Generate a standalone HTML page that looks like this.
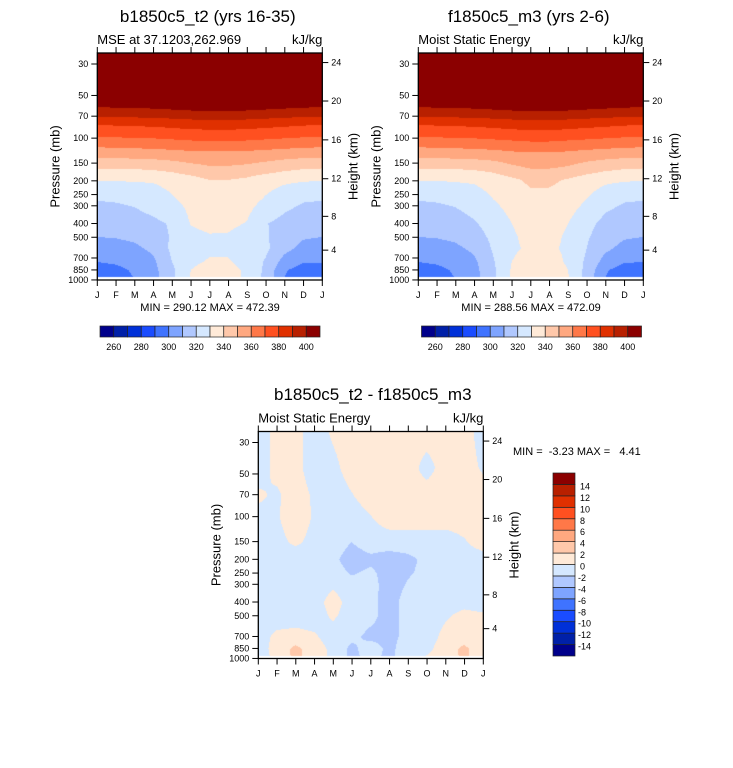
<!DOCTYPE html>
<html><head><meta charset="utf-8">
<style>
html,body{margin:0;padding:0;background:#fff;}
#root{position:relative;width:733px;height:768px;overflow:hidden;font-family:"Liberation Sans",Arial,sans-serif;}
canvas{position:absolute;}
svg{position:absolute;left:0;top:0;}
</style></head>
<body>
<div id="root">
<canvas id="cA"></canvas>
<canvas id="cB"></canvas>
<canvas id="cD"></canvas>
<svg id="ov" width="733" height="768"></svg>
</div>
<script>
const monthLabels=["J","F","M","A","M","J","J","A","S","O","N","D","J"];
const pressureTicks=[30,50,70,100,150,200,250,300,400,500,700,850,1000];
const heightTicks=[4,8,12,16,20,24];
const levelsTop=[260,270,280,290,300,310,320,330,340,350,360,370,380,390,400];
const levelsDiff=[-14,-12,-10,-8,-6,-4,-2,0,2,4,6,8,10,12,14];
const topBarLabels=[260,280,300,320,340,360,380,400];
const palette=["#00008b","#0020a8","#0030d8","#1a4cff","#3f73ff","#7ea4ff","#b0c8ff","#d5e8ff","#ffead8","#ffc8aa","#ffa880","#ff7848","#ff5020","#e03000","#b82000","#8b0000"];
const presA=[25,60,70,80,97,115,136,162,197,269,400,498,600,747,850,1000];
const mseA=[
[450,450,450,450,450,450,450,450,450,450,450,450,450],
[400.5,401,401.5,402,403,404,404.5,404.5,404,403,402,401,400.5],
[390.5,391,391.5,392,393,394,394.5,394.5,394,393,392,391,390.5],
[380.5,381,381.5,382,383,384,384.5,384.5,384,383,382,381,380.5],
[370.5,371,371.5,372,373,374,374.5,374.5,374,373,372,371,370.5],
[360.5,361,361.5,362,363,364,364.5,364.5,364,363,362,361,360.5],
[350.5,351,351.5,352,353,354,354.5,354.5,354,353,352,351,350.5],
[340.5,341,341,342,344,347,349,349,348,346,343,341,340.5],
[330.5,330.5,331,331,333,336,340,340,338,334,332,331,330.5],
[320.5,321,322,325,329,333,337,337,334,329,324,321,320.5],
[313,314,316,318,321,330.5,333,332,329.5,320.5,317,314,313],
[310,310.5,312,315,321,327,329,329,326,321,315,311,310],
[305,306,308,312,322,327,328,328,326,322,313,307,305],
[300,301,303,308,320,328,331,331,326,319,306,300.5,300.5],
[297,298,301,307,318,330,334,334,328,318,301,296,297],
[295,296.5,300,306,318,331,335,335,328,317,299.5,294,295]];
const presB=[25,60,70,80,97,115,136,162,197,269,400,498,600,747,850,1000];
const mseB=[
[450,450,450,450,450,450,450,450,450,450,450,450,450],
[400.5,401,401.5,402,403,404,405,405,404,403,402,401,400.5],
[390.5,391,391.5,392,393,394,395,395,394,393,392,391,390.5],
[380.5,381,381.5,382,383,384,385,385,384,383,382,381,380.5],
[370.5,371,371.5,372,373,374,375,375,374,373,372,371,370.5],
[360.5,361,361.5,362,363,364,365,365,364,363,362,361,360.5],
[350.5,351,351.5,352,353,355,356,356,355,353,352,351,350.5],
[340.5,341,341,342,344,348,350.5,350.5,349,346,343,341,340.5],
[330.5,330.5,331,331.5,334,338,342,342,339,335,332,331,330.5],
[320.5,321,322,325,330,334,337,337,335,330,324,321,320.5],
[313,314,316,319,324,330,333,333,330,323,317,314,313],
[310,310.5,312,316,322,329,332,332,329,321,315,311,310],
[305,306,308,312,321,329,331,331,329,320,312,307,305],
[300,301,303,308,319,330,333,333,329,318,306,300.5,300],
[297,298,301,307,318,331,335,335,330,317,301,296,297],
[295,296.5,300,306,317,332,336,336,331,316,299.5,294,295]];
const presD=[25,45,70,100,150,200,250,300,400,500,700,850,1000];
const mseD=[
[-1,0.6,0.6,-1,0.3,1,1,1,1,1,1,1,-1],
[-1,0.6,0.6,-1,-0.5,0.8,1,1,1,-0.8,1,1,-0.3],
[0.3,-0.3,1,-0.3,-1,-0.1,1,1,1,1,1,1,1],
[-0.5,-0.2,1,-0.2,-1,-1,-0.1,1,1,1,1,1,1],
[-1,-0.5,0.3,-0.5,-1,-2,-1,-1,-1,-1,-1,-0.2,1],
[-1,-1,-1,-1,-1.5,-3,-2.5,-3,-2.5,-1.5,-1,-1,-1],
[-1,-1,-1,-1,-1,-2.2,-1.5,-3,-2.2,-1.5,-1,-1,-1],
[-1,-1,-1,-1,-0.3,-1,-1.2,-3,-1.8,-1,-1,-1,-1],
[-1,-1,-1,-0.8,0.8,-0.8,-1.5,-2.8,-1.2,-1,-0.8,-0.5,-0.8],
[-1,-1,-1,-1,0.3,-1,-1.5,-2.8,-1.2,-0.8,-0.2,0.5,0.3],
[-1,0.5,0.8,0.3,-1,-1.5,-2.5,-2.5,-1.5,-0.8,0.5,1,0.3],
[-1,0.8,2.5,1,-0.5,-2.5,-1,-2.5,-1,-0.5,1,2.5,0.5],
[-1,0.5,2.5,1,-0.5,-2.5,-1.5,-2.5,-1,0.3,0.8,2.5,0.5]];

const NS='http://www.w3.org/2000/svg';
const ov=document.getElementById('ov');
function mk(tag,attrs,parent){const e=document.createElementNS(NS,tag);for(const k in attrs)e.setAttribute(k,attrs[k]);(parent||ov).appendChild(e);return e;}
function txt(s,x,y,size,anchor,parent){const t=mk('text',{x:x,y:y,'font-size':size,'text-anchor':anchor||'start','font-family':'Liberation Sans, Arial, sans-serif',fill:'#000'},parent);t.textContent=s;return t;}
function hex(c){return [parseInt(c.substr(1,2),16),parseInt(c.substr(3,2),16),parseInt(c.substr(5,2),16)];}
const palRGB=palette.map(hex);
function cidx(v,lv){let i=0;while(i<lv.length&&v>=lv[i])i++;return i;}
// standard atmosphere height->pressure
function zToP(z){if(z<=11)return 1013.25*Math.pow(1-z/44.33,5.256);if(z<=20)return 226.3*Math.exp(-(z-11)/6.34);return 54.75*Math.pow((216.65+(z-20))/216.65,-34.16);}

function panel(o){
  const W=225,H=227,x0=o.x0,y0=o.y0,y30=y0+11,pd=141.8;
  const yOfP=p=>y30+pd*Math.log10(p/30);
  const pOfY=y=>30*Math.pow(10,(y-y30)/pd);
  const xOfM=i=>x0+i*W/12;
  // contour fill
  const cv=document.getElementById(o.canvas);
  cv.width=W;cv.height=H;cv.style.left=x0+'px';cv.style.top=y0+'px';
  const ctx=cv.getContext('2d');const img=ctx.createImageData(W,H);
  const lp=o.pres.map(p=>Math.log(p));
  for(let py=0;py<H;py++){
    const p=pOfY(y0+py+0.5);if(p>955)continue;
    const l=Math.log(p);let k=0;while(k<lp.length-2&&l>lp[k+1])k++;
    let t=(l-lp[k])/(lp[k+1]-lp[k]);t=Math.max(0,Math.min(1,t));
    for(let px=0;px<W;px++){
      const m=(px+0.5)/W*12;let i=Math.min(11,Math.floor(m));const u=m-i;
      const v=(1-t)*((1-u)*o.data[k][i]+u*o.data[k][i+1])+t*((1-u)*o.data[k+1][i]+u*o.data[k+1][i+1]);
      const c=palRGB[cidx(v,o.levels)];const j=(py*W+px)*4;
      img.data[j]=c[0];img.data[j+1]=c[1];img.data[j+2]=c[2];img.data[j+3]=255;
    }
  }
  ctx.putImageData(img,0,0);
  const g=mk('g',{});
  
  
  mk('rect',{x:x0,y:y0,width:W,height:H,fill:'none',stroke:'#000','stroke-width':1.3},g);
  // pressure ticks
  pressureTicks.forEach(p=>{const y=yOfP(p);
    mk('line',{x1:x0-6,x2:x0,y1:y,y2:y,stroke:'#000','stroke-width':1},g);
    const t=txt(String(p),x0-9,y+3,9,'end',g);
    
    });
  heightTicks.forEach(z=>{const y=yOfP(zToP(z));
    mk('line',{x1:x0+W,x2:x0+W+6,y1:y,y2:y,stroke:'#000','stroke-width':1},g);
    const t=txt(String(z),x0+W+9,y+3,9,'start',g);
    
    });
  monthLabels.forEach((m,i)=>{const x=xOfM(i);
    mk('line',{x1:x,x2:x,y1:y0-6,y2:y0,stroke:'#000','stroke-width':1},g);
    mk('line',{x1:x,x2:x,y1:y0+H,y2:y0+H+6,stroke:'#000','stroke-width':1},g);
    const t=txt(m,x,y0+H+18,9,'middle',g);
    
    });
  let t=txt(o.title,x0+W/2+(o.titleDx||0),o.titleY,17,'middle',g);
  
  
  t=txt(o.sub,x0,y0-9,13,'start',g);
  
  
  t=txt('kJ/kg',x0+W,y0-9,13,'end',g);
  
  
  t=txt('Pressure (mb)',0,0,13,'middle',g);
  t.setAttribute('transform','translate('+(x0-38)+','+(y0+H/2)+') rotate(-90)');
  
  
  t=txt('Height (km)',0,0,13,'middle',g);
  t.setAttribute('transform','translate('+(x0+W+35)+','+(y0+H/2)+') rotate(-90)');
  
  
}
panel({canvas:'cA',name:'panel-b1850c5',x0:97.3,y0:53,pres:presA,data:mseA,levels:levelsTop,title:'b1850c5_t2 (yrs 16-35)',titleY:22,titleDx:-2,sub:'MSE at 37.1203,262.969'});
panel({canvas:'cB',name:'panel-f1850c5',x0:418.3,y0:53,pres:presB,data:mseB,levels:levelsTop,title:'f1850c5_m3 (yrs 2-6)',titleY:22,titleDx:-2,sub:'Moist Static Energy'});
panel({canvas:'cD',name:'panel-difference',x0:258.3,y0:431.5,pres:presD,data:mseD,levels:levelsDiff,title:'b1850c5_t2 - f1850c5_m3',titleY:400,titleDx:2,sub:'Moist Static Energy'});

// min/max
let t=txt('MIN = 290.12 MAX = 472.39',210,311,11,'middle');


t=txt('MIN = 288.56 MAX = 472.09',531,311,11,'middle');


t=txt('MIN =  -3.23 MAX =   4.41',513,455,11,'start');
t.setAttribute('xml:space','preserve');t.style.whiteSpace='pre';



// horizontal colorbars
function hbar(x0,name){const w=220/16;const g=mk('g',{});
  
  
  palette.forEach((c,i)=>{const r=mk('rect',{x:x0+i*w,y:326,width:w,height:11,fill:c,stroke:'#222','stroke-width':0.7},g);
    
    });
  topBarLabels.forEach(v=>{const i=levelsTop.indexOf(v)+1;
    const tt=txt(String(v),x0+i*w,350,9,'middle',g);
    
    });
}
hbar(100,'colorbar-b1850');hbar(421.5,'colorbar-f1850');
// vertical colorbar
(function(){const x0=553,y0=473,h=183/16;const g=mk('g',{});
  
  
  palette.forEach((c,i)=>{const r=mk('rect',{x:x0,y:y0+(15-i)*h,width:22,height:h,fill:c,stroke:'#222','stroke-width':0.7},g);
    
    });
  levelsDiff.forEach((v,k)=>{const y=y0+(15-(k+1))*h+h;
    const tt=txt(String(v),v<0?578:580,y+5,9,'start',g);
    
    });
})();
</script>
</body></html>
